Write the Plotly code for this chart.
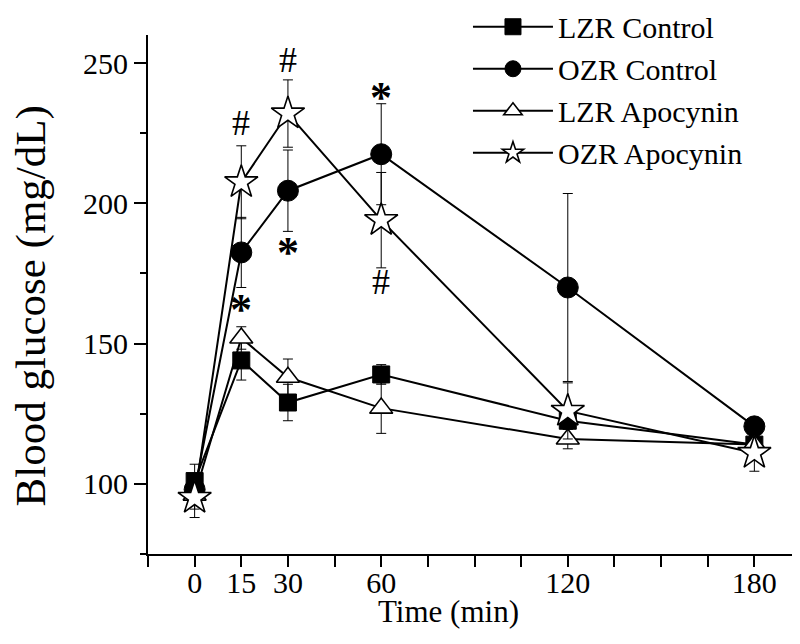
import plotly.graph_objects as go

# ---- data ----
time_min = [0, 15, 30, 60, 120, 180]

lzr_control = [101, 144, 129, 139, 122.5, 114]
lzr_control_err = [6, 7, 6.5, 3.5, 3, 2]

ozr_control = [98, 182.5, 204.5, 217.5, 170, 120.5]
ozr_control_err = [5, 12.5, 14.5, 18, 33.5, 2]

lzr_apocynin = [96, 152, 138, 127, 116, 114]
lzr_apocynin_err = [5, 4, 6.5, 9, 3.5, 3]

ozr_apocynin = [95, 207.5, 232, 194, 126, 111]
ozr_apocynin_err = [7, 13, 12, 17, 10, 6.5]

series_names = ["LZR Control", "OZR Control", "LZR Apocynin", "OZR Apocynin"]

x_tickvals = [-15, 0, 15, 30, 45, 60, 75, 90, 105, 120, 135, 150, 165, 180, 195]
x_ticktext = ["", "0", "15", "30", "", "60", "", "", "", "120", "", "", "", "180", ""]
y_tickvals = [100, 150, 200, 250]

sig_x = [15, 30, 60, 15, 30, 60]
sig_y = [228.5, 251, 241.4, 165.7, 185.9, 171.8]
sig_text = ["#", "#", "*", "*", "*", "#"]

# ---- figure ----
FONT = "Liberation Serif"
fig = go.Figure()

styles = [
    dict(symbol="square", size=17, color="black", line=dict(color="black", width=1)),
    dict(symbol="circle", size=21, color="black", line=dict(color="black", width=1)),
    dict(symbol="triangle-up", size=20, color="white", line=dict(color="black", width=1.6)),
    dict(symbol="star", size=25, color="white", line=dict(color="black", width=1.6)),
]
values = [lzr_control, ozr_control, lzr_apocynin, ozr_apocynin]
errors = [lzr_control_err, ozr_control_err, lzr_apocynin_err, ozr_apocynin_err]

for name, y, e, m in zip(series_names, values, errors, styles):
    fig.add_trace(go.Scatter(
        x=time_min, y=y, name=name, mode="lines+markers",
        line=dict(color="black", width=2),
        marker=m,
        error_y=dict(type="data", array=e, visible=True, color="black",
                     thickness=1, width=5),
    ))

for sx, sy, st in zip(sig_x, sig_y, sig_text):
    fig.add_annotation(
        x=sx, y=sy, xref="x", yref="y", text=st, showarrow=False,
        font=dict(family=FONT, size=36 if st == "#" else 44, color="black",
                  weight="bold" if st == "*" else "normal"),
        xanchor="center", yanchor="middle",
        yshift=0 if st == "#" else -10,
    )

# axis titles as annotations
fig.add_annotation(
    text="Blood glucose (mg/dL)", xref="paper", yref="paper",
    x=-0.18, y=0.478, textangle=-90, showarrow=False,
    xanchor="center", yanchor="middle",
    font=dict(family=FONT, size=43, color="black"),
)
fig.add_annotation(
    text="Time (min)", xref="paper", yref="paper",
    x=0.46, y=-0.11, showarrow=False,
    xanchor="center", yanchor="middle",
    font=dict(family=FONT, size=31, color="black"),
)

fig.update_layout(
    width=800, height=644,
    margin=dict(l=140, r=7, t=27, b=98, autoexpand=False),
    paper_bgcolor="white", plot_bgcolor="white",
    font=dict(family=FONT, color="black"),
    showlegend=True,
    legend=dict(
        x=0.49, y=1.066, xanchor="left", yanchor="top",
        font=dict(family=FONT, size=30, color="black"),
        bgcolor="rgba(0,0,0,0)", itemwidth=80, tracegroupgap=0,
    ),
    xaxis=dict(
        range=[-15, 195], tickmode="array", tickvals=x_tickvals, ticktext=x_ticktext,
        showgrid=False, zeroline=False, showline=True, linecolor="black", linewidth=2,
        ticks="outside", ticklen=11, tickwidth=2, tickcolor="black",
        tickfont=dict(family=FONT, size=30, color="black"), mirror=False,
        ticklabelstandoff=-10, automargin=False,
    ),
    yaxis=dict(
        range=[75, 260], tickmode="array", tickvals=y_tickvals,
        showgrid=False, zeroline=False, showline=True, linecolor="black", linewidth=2,
        ticks="outside", ticklen=12, tickwidth=2, tickcolor="black",
        tickfont=dict(family=FONT, size=30, color="black"), mirror=False,
        automargin=False,
        minor=dict(dtick=25, tick0=75, ticks="outside", ticklen=6, tickwidth=2,
                   tickcolor="black", showgrid=False),
    ),
)

fig.write_html("out.html")
